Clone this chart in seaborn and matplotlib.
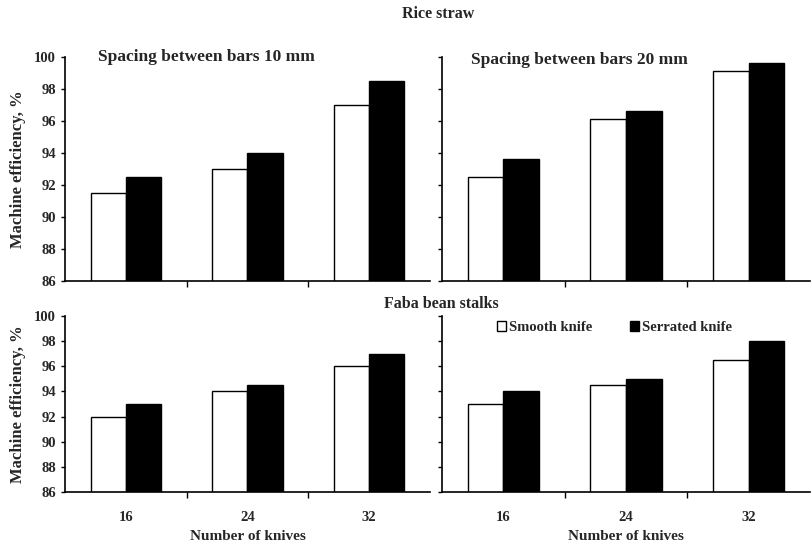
import matplotlib
matplotlib.use("Agg")
import matplotlib.pyplot as plt
import seaborn as sns
import pandas as pd
from matplotlib.patches import Patch
from matplotlib.ticker import FixedLocator

knives = ["16", "24", "32"]
knife_types = ["Smooth knife", "Serrated knife"]
rice_10_smooth = [91.5, 93.0, 97.0]
rice_10_serrated = [92.5, 94.0, 98.5]
rice_20_smooth = [92.5, 96.1, 99.1]
rice_20_serrated = [93.6, 96.6, 99.6]
faba_10_smooth = [92.0, 94.0, 96.0]
faba_10_serrated = [93.0, 94.5, 97.0]
faba_20_smooth = [93.0, 94.5, 96.5]
faba_20_serrated = [94.0, 95.0, 98.0]
yticks = [86, 88, 90, 92, 94, 96, 98, 100]

sns.set_theme(style="ticks")
plt.rcParams['font.family'] = ['Liberation Serif', 'DejaVu Serif']
plt.rcParams['font.weight'] = 'bold'

fig = plt.figure(figsize=(8.12, 5.49), dpi=100)
W, H = 812, 549
def box(x0, y0, x1, y1):
    return [x0 / W, 1 - y1 / H, (x1 - x0) / W, (y1 - y0) / H]

axes = {
    "tl": fig.add_axes(box(65, 57, 430, 281)),
    "tr": fig.add_axes(box(442, 57, 810, 281)),
    "bl": fig.add_axes(box(65, 316, 430, 492)),
    "br": fig.add_axes(box(442, 316, 810, 492)),
}
panels = {
    "tl": (rice_10_smooth, rice_10_serrated),
    "tr": (rice_20_smooth, rice_20_serrated),
    "bl": (faba_10_smooth, faba_10_serrated),
    "br": (faba_20_smooth, faba_20_serrated),
}
palette = {"Smooth knife": "white", "Serrated knife": "black"}

for key, ax in axes.items():
    s, r = panels[key]
    df = pd.DataFrame({
        "knives": knives * 2,
        "type": [knife_types[0]] * 3 + [knife_types[1]] * 3,
        "eff": s + r,
    })
    sns.barplot(data=df, x="knives", y="eff", hue="type", order=knives,
                hue_order=knife_types, palette=palette, edgecolor="black",
                linewidth=1.0, width=0.58, gap=0, ax=ax, legend=False)
    ax.set_ylim(86, 100)
    ax.set_xlim(-0.5, 2.5)
    ax.set_yticks(yticks)
    ax.xaxis.set_minor_locator(FixedLocator([0.5, 1.5]))
    ax.tick_params(axis="x", which="major", length=0, labelsize=10.5, pad=14)
    ax.tick_params(axis="x", which="minor", length=4, width=1, direction="out", color="black")
    ax.tick_params(axis="y", length=3, width=1, direction="out", labelsize=10.5, color="black")
    for sp in ["top", "right"]:
        ax.spines[sp].set_visible(False)
    for sp in ["left", "bottom"]:
        ax.spines[sp].set_color("black")
        ax.spines[sp].set_linewidth(1.2)
    ax.set_xlabel("")
    ax.set_ylabel("")
    if key in ("tr", "br"):
        ax.set_yticklabels([])
    if key in ("tl", "tr"):
        ax.set_xticklabels([])
    else:
        ax.set_xlabel("Number of knives", fontsize=11, fontweight="bold", labelpad=4)
    if key in ("tl", "bl"):
        ax.set_ylabel("Machine efficiency, %", fontsize=12, fontweight="bold", labelpad=6)

axes["tl"].text(0.09, 1.0, "Spacing between bars 10 mm", transform=axes["tl"].transAxes,
                fontsize=12.5, fontweight="bold", va="center", ha="left")
axes["tr"].text(0.08, 0.985, "Spacing between bars 20 mm", transform=axes["tr"].transAxes,
                fontsize=12.5, fontweight="bold", va="center", ha="left")

fig.text(438 / W, 1 - 14 / H, "Rice straw", fontsize=11.5, fontweight="bold", ha="center", va="center")
fig.text(441 / W, 1 - 304 / H, "Faba bean stalks", fontsize=11.5, fontweight="bold", ha="center", va="center")

handles = [Patch(facecolor="white", edgecolor="black", label="Smooth knife"),
           Patch(facecolor="black", edgecolor="black", label="Serrated knife")]
axes["br"].legend(handles=handles, loc="upper left", bbox_to_anchor=(0.115, 1.045), ncol=2,
                  frameon=False, handlelength=0.6, handleheight=0.6, handletextpad=0.2,
                  columnspacing=2.6, prop={"size": 10.5, "weight": "bold"})

fig.savefig("out.png", dpi=100)
